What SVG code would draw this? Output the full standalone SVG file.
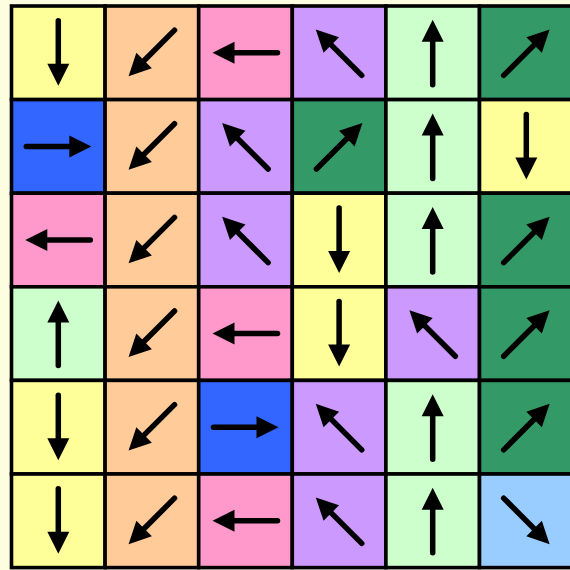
<svg xmlns="http://www.w3.org/2000/svg" xmlns:xlink="http://www.w3.org/1999/xlink" width="570" height="570" viewBox="0 0 570 570">
<style>
.c{stroke:#000;stroke-width:3.6}
.Y{fill:#ffff99}.O{fill:#ffcc99}.P{fill:#ff99cc}.U{fill:#cc99ff}.G{fill:#ccffcc}.D{fill:#339966}.B{fill:#3366ff}.L{fill:#99ccff}
</style>
<defs>
<g id="arr">
<line x1="0" y1="-32" x2="0" y2="14" stroke="#000" stroke-width="5.5" stroke-linecap="round"/>
<polygon points="-11,11 11,11 0,33" fill="#000"/>
</g>
</defs>
<rect width="570" height="570" fill="#fdfde0"/>
<g id="r0">
<g id="n00"><rect class="c Y" x="11.5" y="6" width="93.6" height="93.6"/><use href="#arr" transform="translate(58.3,52.8) rotate(0)"/></g>
<g id="n01"><rect class="c O" x="105.1" y="6" width="93.6" height="93.6"/><use href="#arr" transform="translate(151.9,52.8) rotate(45)"/></g>
<g id="n02"><rect class="c P" x="198.7" y="6" width="93.6" height="93.6"/><use href="#arr" transform="translate(245.5,52.8) rotate(90)"/></g>
<g id="n03"><rect class="c U" x="292.3" y="6" width="93.6" height="93.6"/><use href="#arr" transform="translate(339.1,52.8) rotate(135)"/></g>
<g id="n04"><rect class="c G" x="385.9" y="6" width="93.6" height="93.6"/><use href="#arr" transform="translate(432.7,52.8) rotate(180)"/></g>
<g id="n05"><rect class="c D" x="479.5" y="6" width="93.6" height="93.6"/><use href="#arr" transform="translate(526.3,52.8) rotate(225)"/></g>
</g>
<g id="r1">
<g id="n10"><rect class="c B" x="11.5" y="99.6" width="93.6" height="93.6"/><use href="#arr" transform="translate(58.3,146.4) rotate(-90)"/></g>
<g id="n11"><rect class="c O" x="105.1" y="99.6" width="93.6" height="93.6"/><use href="#arr" transform="translate(151.9,146.4) rotate(45)"/></g>
<g id="n12"><rect class="c U" x="198.7" y="99.6" width="93.6" height="93.6"/><use href="#arr" transform="translate(245.5,146.4) rotate(135)"/></g>
<g id="n13"><rect class="c D" x="292.3" y="99.6" width="93.6" height="93.6"/><use href="#arr" transform="translate(339.1,146.4) rotate(225)"/></g>
<g id="n14"><rect class="c G" x="385.9" y="99.6" width="93.6" height="93.6"/><use href="#arr" transform="translate(432.7,146.4) rotate(180)"/></g>
<g id="n15"><rect class="c Y" x="479.5" y="99.6" width="93.6" height="93.6"/><use href="#arr" transform="translate(526.3,146.4) rotate(0)"/></g>
</g>
<g id="r2">
<g id="n20"><rect class="c P" x="11.5" y="193.2" width="93.6" height="93.6"/><use href="#arr" transform="translate(58.3,240) rotate(90)"/></g>
<g id="n21"><rect class="c O" x="105.1" y="193.2" width="93.6" height="93.6"/><use href="#arr" transform="translate(151.9,240) rotate(45)"/></g>
<g id="n22"><rect class="c U" x="198.7" y="193.2" width="93.6" height="93.6"/><use href="#arr" transform="translate(245.5,240) rotate(135)"/></g>
<g id="n23"><rect class="c Y" x="292.3" y="193.2" width="93.6" height="93.6"/><use href="#arr" transform="translate(339.1,240) rotate(0)"/></g>
<g id="n24"><rect class="c G" x="385.9" y="193.2" width="93.6" height="93.6"/><use href="#arr" transform="translate(432.7,240) rotate(180)"/></g>
<g id="n25"><rect class="c D" x="479.5" y="193.2" width="93.6" height="93.6"/><use href="#arr" transform="translate(526.3,240) rotate(225)"/></g>
</g>
<g id="r3">
<g id="n30"><rect class="c G" x="11.5" y="286.8" width="93.6" height="93.6"/><use href="#arr" transform="translate(58.3,333.6) rotate(180)"/></g>
<g id="n31"><rect class="c O" x="105.1" y="286.8" width="93.6" height="93.6"/><use href="#arr" transform="translate(151.9,333.6) rotate(45)"/></g>
<g id="n32"><rect class="c P" x="198.7" y="286.8" width="93.6" height="93.6"/><use href="#arr" transform="translate(245.5,333.6) rotate(90)"/></g>
<g id="n33"><rect class="c Y" x="292.3" y="286.8" width="93.6" height="93.6"/><use href="#arr" transform="translate(339.1,333.6) rotate(0)"/></g>
<g id="n34"><rect class="c U" x="385.9" y="286.8" width="93.6" height="93.6"/><use href="#arr" transform="translate(432.7,333.6) rotate(135)"/></g>
<g id="n35"><rect class="c D" x="479.5" y="286.8" width="93.6" height="93.6"/><use href="#arr" transform="translate(526.3,333.6) rotate(225)"/></g>
</g>
<g id="r4">
<g id="n40"><rect class="c Y" x="11.5" y="380.4" width="93.6" height="93.6"/><use href="#arr" transform="translate(58.3,427.2) rotate(0)"/></g>
<g id="n41"><rect class="c O" x="105.1" y="380.4" width="93.6" height="93.6"/><use href="#arr" transform="translate(151.9,427.2) rotate(45)"/></g>
<g id="n42"><rect class="c B" x="198.7" y="380.4" width="93.6" height="93.6"/><use href="#arr" transform="translate(245.5,427.2) rotate(-90)"/></g>
<g id="n43"><rect class="c U" x="292.3" y="380.4" width="93.6" height="93.6"/><use href="#arr" transform="translate(339.1,427.2) rotate(135)"/></g>
<g id="n44"><rect class="c G" x="385.9" y="380.4" width="93.6" height="93.6"/><use href="#arr" transform="translate(432.7,427.2) rotate(180)"/></g>
<g id="n45"><rect class="c D" x="479.5" y="380.4" width="93.6" height="93.6"/><use href="#arr" transform="translate(526.3,427.2) rotate(225)"/></g>
</g>
<g id="r5">
<g id="n50"><rect class="c Y" x="11.5" y="474" width="93.6" height="93.6"/><use href="#arr" transform="translate(58.3,520.8) rotate(0)"/></g>
<g id="n51"><rect class="c O" x="105.1" y="474" width="93.6" height="93.6"/><use href="#arr" transform="translate(151.9,520.8) rotate(45)"/></g>
<g id="n52"><rect class="c P" x="198.7" y="474" width="93.6" height="93.6"/><use href="#arr" transform="translate(245.5,520.8) rotate(90)"/></g>
<g id="n53"><rect class="c U" x="292.3" y="474" width="93.6" height="93.6"/><use href="#arr" transform="translate(339.1,520.8) rotate(135)"/></g>
<g id="n54"><rect class="c G" x="385.9" y="474" width="93.6" height="93.6"/><use href="#arr" transform="translate(432.7,520.8) rotate(180)"/></g>
<g id="n55"><rect class="c L" x="479.5" y="474" width="93.6" height="93.6"/><use href="#arr" transform="translate(526.3,520.8) rotate(-45)"/></g>
</g>
<g id="connectors"/>
</svg>
